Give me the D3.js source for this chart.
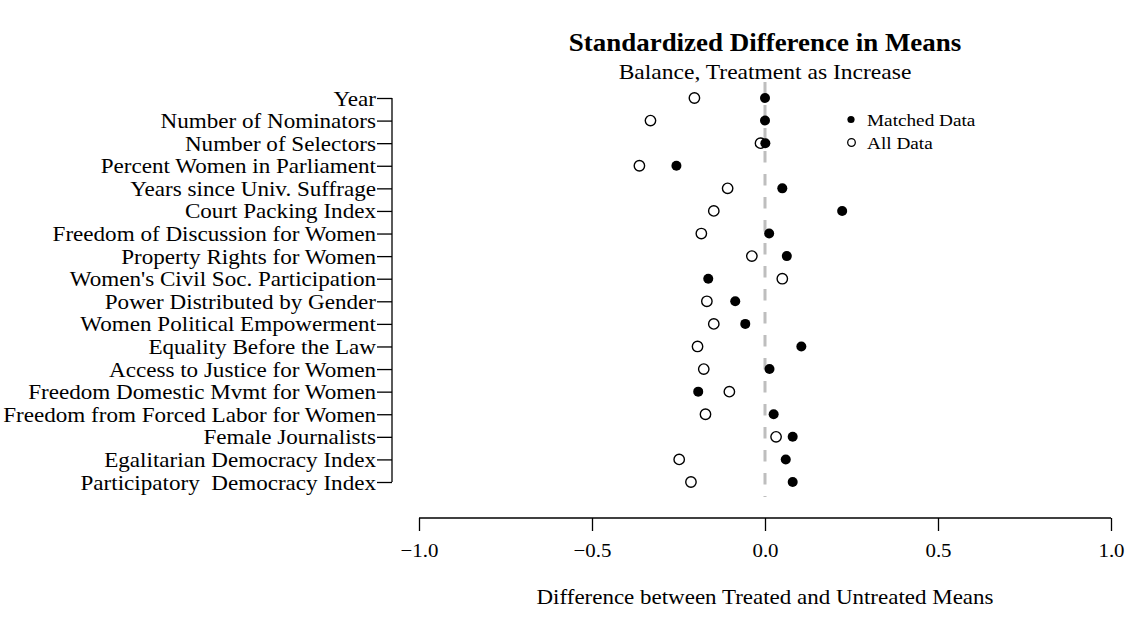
<!DOCTYPE html>
<html><head><meta charset="utf-8">
<script src="https://cdn.jsdelivr.net/npm/d3@7"></script>
<style>body{margin:0;background:#fff}svg{display:block}text{font-family:"Liberation Serif","Times New Roman",serif;fill:#000}</style>
</head><body><svg id="c" width="1125" height="632"></svg>
<script>
const categories = ["Year","Number of Nominators","Number of Selectors","Percent Women in Parliament","Years since Univ. Suffrage","Court Packing Index","Freedom of Discussion for Women","Property Rights for Women","Women's Civil Soc. Participation","Power Distributed by Gender","Women Political Empowerment","Equality Before the Law","Access to Justice for Women","Freedom Domestic Mvmt for Women","Freedom from Forced Labor for Women","Female Journalists","Egalitarian Democracy Index","Participatory  Democracy Index"];
const matched = [0.000,0.000,0.001,-0.256,0.050,0.223,0.012,0.063,-0.164,-0.086,-0.057,0.105,0.013,-0.193,0.025,0.080,0.060,0.080];
const allData = [-0.204,-0.331,-0.013,-0.363,-0.108,-0.148,-0.184,-0.038,0.050,-0.168,-0.148,-0.195,-0.177,-0.103,-0.172,0.032,-0.248,-0.214];
const xTicks = [-1.0,-0.5,0.0,0.5,1.0];

const SX = 1.1;
const svg = d3.select("#c");
const x = d3.scaleLinear().domain([-1,1]).range([419,1111]);
const y = d3.scalePoint().domain(categories).range([98,482]);

function stext(g, tx, ty, size, anchor, str, bold){
  const t = g.append("text").attr("transform",`translate(${tx},${ty}) scale(${SX},1)`)
    .attr("text-anchor",anchor).style("font-size",size+"px").style("white-space","pre").text(str);
  if(bold) t.style("font-weight","bold");
  return t;
}

stext(svg,765,51,24.5,"middle","Standardized Difference in Means",true);
stext(svg,765,79,21.4,"middle","Balance, Treatment as Increase");
stext(svg,765,604,20.9,"middle","Difference between Treated and Untreated Means");

// zero line
svg.append("line").attr("x1",x(0)).attr("x2",x(0)).attr("y1",82).attr("y2",497)
  .attr("stroke","#bebebe").attr("stroke-width",3).attr("stroke-dasharray","11.5,11.5");

// x axis
const xa = svg.append("g").attr("transform","translate(0,518)")
  .call(d3.axisBottom(x).tickValues(xTicks).tickSize(13)
    .tickFormat(d=>d3.format(".1f")(d).replace("-","\u2212")));
xa.selectAll("path,line").attr("stroke","#000").attr("stroke-width",1.3);
xa.select(".domain").attr("d","M"+x(-1)+",0H"+x(1));
xa.selectAll(".tick text").attr("x",null).attr("y",null).attr("dy",null)
  .attr("transform",`translate(0,39) scale(${SX},1)`)
  .style("font-size","19px").style("font-family","Liberation Serif");

// y axis
const ya = svg.append("g").attr("transform","translate(392,0)")
  .call(d3.axisLeft(y).tickSize(15));
ya.selectAll("path,line").attr("stroke","#000").attr("stroke-width",1.3);
ya.select(".domain").attr("d","M0,"+y(categories[0])+"V"+y(categories[categories.length-1]));
ya.selectAll(".tick text").attr("x",null).attr("dy",null)
  .attr("transform",`translate(-16,7) scale(${SX},1)`)
  .style("white-space","pre")
  .style("font-size","21px").style("font-family","Liberation Serif");

// points
svg.append("g").selectAll("circle").data(allData).join("circle")
  .attr("cx",d=>x(d)).attr("cy",(d,i)=>y(categories[i])).attr("r",5.2)
  .attr("fill","#fff").attr("stroke","#000").attr("stroke-width",1.4);
svg.append("g").selectAll("circle").data(matched).join("circle")
  .attr("cx",d=>x(d)).attr("cy",(d,i)=>y(categories[i])).attr("r",5)
  .attr("fill","#000");

// legend
const lg = svg.append("g");
lg.append("circle").attr("cx",851).attr("cy",119.5).attr("r",3.6).attr("fill","#000");
lg.append("circle").attr("cx",851.5).attr("cy",142.5).attr("r",3.8).attr("fill","#fff").attr("stroke","#000").attr("stroke-width",1.3);
stext(lg,867,125.5,17.5,"start","Matched Data");
stext(lg,867,148.5,17.5,"start","All Data");
</script></body></html>
